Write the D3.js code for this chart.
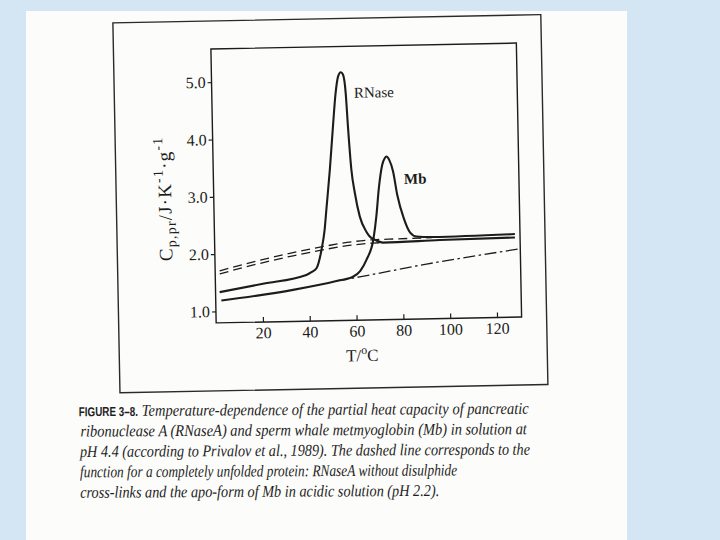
<!DOCTYPE html>
<html lang="en">
<head>
<meta charset="UTF-8">
<title>Partial heat capacity of RNaseA and Mb</title>
<script src="https://cdnjs.cloudflare.com/ajax/libs/d3/7.8.5/d3.min.js"></script>
<style>
  body { margin: 0; background: #d4e6f4; }
  svg { display: block; }
</style>
</head>
<body>
<div id="chart"></div>
<script>
// values (T in degC, Cp in J/K/g)
var rnaseT  = [1.75, 20.3, 38.9, 41.1, 43.3, 45.6, 47.1, 48.0, 49.8, 51.5, 52.9, 54.1, 55.3, 56.2, 57.2, 57.9, 59.0, 60.3, 62.2, 64.9, 66.3, 68.4, 71.9, 96.2, 128.3];
var rnaseCp = [1.335, 1.467, 1.607, 1.653, 1.72, 2.04, 2.39, 2.74, 3.43, 4.19, 4.77, 5.06, 5.13, 5.09, 4.77, 4.18, 3.43, 3.02, 2.61, 2.34, 2.255, 2.20, 2.145, 2.17, 2.19];

var mbT  = [2.4, 33.1, 51.7, 58.8, 62.0, 64.7, 67.9, 69.3, 70.6, 72.2, 73.4, 74.1, 75.2, 76.8, 78.4, 81.0, 83.6, 86.3, 93.2, 128.3];
var mbCp = [1.188, 1.35, 1.49, 1.56, 1.66, 1.85, 2.22, 2.61, 3.10, 3.50, 3.62, 3.646, 3.59, 3.38, 2.97, 2.56, 2.31, 2.24, 2.225, 2.25];

// dash-dot: native Mb baseline carried on
var mbNativeT  = [51.7, 61.7, 90.3, 129.6];
var mbNativeCp = [1.49, 1.555, 1.755, 1.986];

// dashed: completely unfolded protein
var mbUnfoldedT  = [1.9, 33.4, 67.7, 78, 93];
var mbUnfoldedCp = [1.707, 2.0, 2.197, 2.205, 2.215];
var rnaseUnfoldedT  = [1.9, 33.4, 67.6, 72];
var rnaseUnfoldedCp = [1.655, 1.944, 2.14, 2.145];

var xTicks = [20, 40, 60, 80, 100, 120];
var yTicks = [1.0, 2.0, 3.0, 4.0, 5.0];

var captionHead = "FIGURE 3\u20138.";
var captionLines = [
    "Temperature-dependence of the partial heat capacity of pancreatic",
    "ribonuclease A (RNaseA) and sperm whale metmyoglobin (Mb) in solution at",
    "pH 4.4 (according to Privalov et al., 1989). The dashed line corresponds to the",
    "function for a completely unfolded protein: RNaseA without disulphide",
    "cross-links and the apo-form of Mb in acidic solution (pH 2.2)."
];

var w = 720, h = 540;
var ink = "#1c1c1c";
var serif = "'Liberation Serif', 'DejaVu Serif', serif";

var svg = d3.select('#chart')
    .append('svg')
    .attr('width', w)
    .attr('height', h);

// the scanned page
svg.append('rect')
    .attr('x', 26).attr('y', 11)
    .attr('width', 601).attr('height', 529)
    .attr('fill', '#fcfcfa');

// the figure sits slightly tilted on the scan
var fig = svg.append('g').attr('transform', 'rotate(-1.1,366,183)');

// outer figure box
fig.append('rect')
    .attr('x', 116).attr('y', 18)
    .attr('width', 428).attr('height', 370)
    .attr('fill', 'none')
    .attr('stroke', '#2a2a2a')
    .attr('stroke-width', 1.4);

var x = d3.scaleLinear().domain([0, 130.5]).range([213.5, 519]);
var y = d3.scaleLinear().domain([0.8, 5.58]).range([320, 46]);

// plot frame
fig.append('rect')
    .attr('x', x(0)).attr('y', y(5.58))
    .attr('width', x(130.5) - x(0))
    .attr('height', y(0.8) - y(5.58))
    .attr('fill', 'none')
    .attr('stroke', ink)
    .attr('stroke-width', 1.4);

var xAxis = fig.append('g')
    .attr('transform', 'translate(0,' + y(0.8) + ')')
    .call(d3.axisBottom(x).tickValues(xTicks).tickSizeInner(-5).tickSizeOuter(0).tickPadding(5));

var yAxis = fig.append('g')
    .attr('transform', 'translate(' + x(0) + ',0)')
    .call(d3.axisLeft(y).tickValues(yTicks).tickSize(4).tickPadding(2).tickFormat(d3.format('.1f')));

[xAxis, yAxis].forEach(function(a) {
    a.select('.domain').remove();
    a.selectAll('line').attr('stroke', ink).attr('stroke-width', 1.2);
    a.selectAll('text')
        .attr('fill', ink)
        .attr('font-family', serif)
        .attr('font-size', 16);
});

function pairs(xs, ys) { return d3.zip(xs, ys); }

var line = d3.line()
    .x(function(d) { return x(d[0]); })
    .y(function(d) { return y(d[1]); })
    .curve(d3.curveMonotoneX);

function drawLine(data, width, dash) {
    fig.append('path')
        .datum(data)
        .attr('d', line)
        .attr('fill', 'none')
        .attr('stroke', ink)
        .attr('stroke-width', width)
        .attr('stroke-linejoin', 'round')
        .attr('stroke-dasharray', dash);
}

drawLine(pairs(rnaseUnfoldedT, rnaseUnfoldedCp), 1.3, '9,5');
drawLine(pairs(mbUnfoldedT, mbUnfoldedCp), 1.3, '9,5');
drawLine(pairs(mbNativeT, mbNativeCp), 1.3, '12,3.5,2.5,3.5');
drawLine(pairs(rnaseT, rnaseCp), 2.1, null);
drawLine(pairs(mbT, mbCp), 2.1, null);

// curve labels
fig.append('text')
    .attr('x', x(60.7)).attr('y', y(4.68))
    .attr('font-family', serif).attr('font-size', 15)
    .attr('fill', ink)
    .text('RNase');
fig.append('text')
    .attr('x', x(81.4)).attr('y', y(3.16))
    .attr('font-family', serif).attr('font-size', 15)
    .attr('font-weight', 'bold')
    .attr('fill', ink)
    .text('Mb');

// x axis title
var xt = fig.append('text')
    .attr('x', 359).attr('y', 361)
    .attr('text-anchor', 'middle')
    .attr('font-family', serif).attr('font-size', 17)
    .attr('fill', ink);
xt.append('tspan').text('T/');
xt.append('tspan').attr('font-size', 12).attr('dy', -7).text('o');
xt.append('tspan').attr('dy', 7).text('C');

// y axis title
var yt = fig.append('text')
    .attr('transform', 'translate(171,195) rotate(-90)')
    .attr('text-anchor', 'middle')
    .attr('font-family', serif).attr('font-size', 19)
    .attr('letter-spacing', 1.2)
    .attr('fill', ink);
yt.append('tspan').text('C');
yt.append('tspan').attr('font-size', 14).attr('dy', 4).text('p,pr');
yt.append('tspan').attr('dy', -4).text('/J\u00b7K');
yt.append('tspan').attr('font-size', 14).attr('dy', -8).text('-1');
yt.append('tspan').attr('dy', 8).text('\u00b7g');
yt.append('tspan').attr('font-size', 14).attr('dy', -8).text('-1');

// caption
var cap = svg.append('g')
    .attr('transform', 'rotate(-0.3,305,455)')
    .attr('fill', '#1e1e1e');

cap.append('text')
    .attr('transform', 'translate(79,415) scale(0.76,1)')
    .attr('font-family', "'Liberation Sans', 'DejaVu Sans', sans-serif")
    .attr('font-size', 13).attr('font-weight', 'bold')
    .text(captionHead);

var capStart = [142, 80.5, 80, 80, 80];
var capEnd = [529, 527, 530, 457, 439];
captionLines.forEach(function(t, i) {
    cap.append('text')
        .attr('x', capStart[i]).attr('y', 415 + i * 20.4)
        .attr('font-family', serif).attr('font-size', 16.5)
        .attr('font-style', 'italic')
        .attr('textLength', capEnd[i] - capStart[i])
        .attr('lengthAdjust', 'spacingAndGlyphs')
        .text(t);
});
</script>
</body>
</html>
